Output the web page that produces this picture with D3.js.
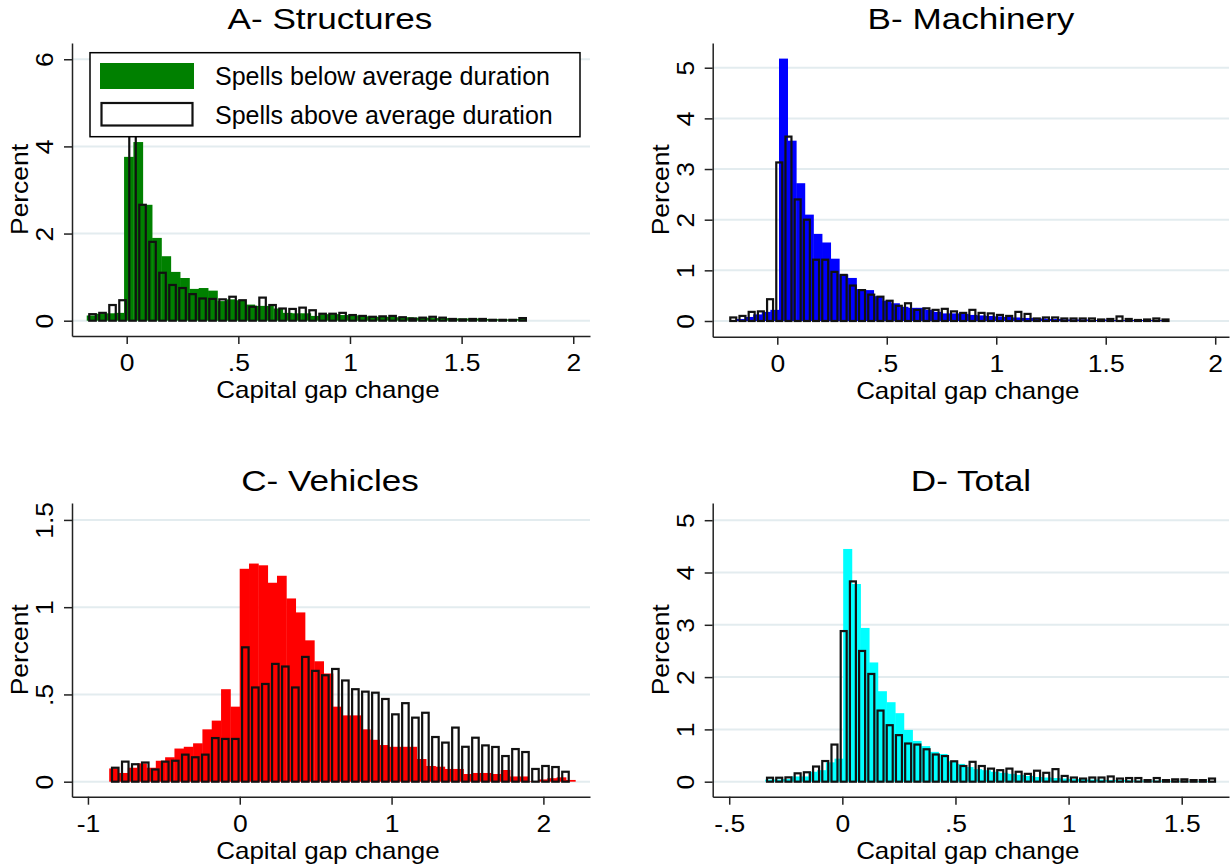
<!DOCTYPE html>
<html>
<head>
<meta charset="utf-8">
<script src="https://cdn.jsdelivr.net/npm/d3@7"></script>
<style>
  body { margin: 0; background: #fff; }
  svg text { font-family: "Liberation Sans", Arial, Helvetica, sans-serif; fill: #000; }
</style>
</head>
<body>
<svg id="chart" width="1231" height="867"></svg>
<script>
// ---- data: percent per bin, [first bin edge, bin width] ----
const structuresBelow = [0.12, 0.16, 0.17, 0.18, 3.76, 4.10, 2.66, 1.90, 1.48, 1.12,
  0.98, 0.73, 0.75, 0.69, 0.45, 0.49, 0.47, 0.37, 0.34, 0.34,
  0.28, 0.18, 0.17, 0.17, 0.11, 0.15, 0.15, 0.13, 0.12, 0.12,
  0.10, 0.09, 0.09, 0.08, 0.08, 0.07, 0.07, 0.06, 0.06, 0.05,
  0.05, 0.05, 0.04, 0.04, 0.03, 0.03, 0.04];
const structuresBelowBins = [-0.179, 0.0418];
const structuresAbove = [0.15, 0.18, 0.36, 0.47, 4.5, 2.66, 1.81, 1.10, 0.82, 0.75,
  0.61, 0.51, 0.50, 0.49, 0.55, 0.47, 0.32, 0.53, 0.36, 0.28,
  0.27, 0.30, 0.24, 0.16, 0.16, 0.18, 0.13, 0.11, 0.09, 0.10,
  0.11, 0.08, 0.05, 0.07, 0.09, 0.07, 0.04, 0.03, 0.04, 0.04,
  0.02, 0.02, 0.02, 0.06];
const structuresAboveBins = [-0.1755, 0.0448];

const machineryBelow = [0.04, 0.08, 0.13, 0.18, 0.22, 5.18, 3.56, 2.72, 2.10, 1.72,
  1.55, 1.23, 0.92, 0.85, 0.63, 0.61, 0.49, 0.40, 0.35, 0.28,
  0.26, 0.26, 0.22, 0.18, 0.15, 0.15, 0.14, 0.12, 0.11, 0.10,
  0.09, 0.08, 0.07, 0.06, 0.06, 0.05, 0.04, 0.04, 0.03, 0.03,
  0.03, 0.02, 0.03, 0.02, 0.02, 0.02, 0.02, 0.02, 0.02, 0.02];
const machineryBelowBins = [-0.1887, 0.0393];
const machineryAbove = [0.07, 0.10, 0.18, 0.19, 0.43, 3.13, 3.64, 2.40, 2.00, 1.21,
  1.21, 0.97, 0.91, 0.70, 0.61, 0.52, 0.48, 0.40, 0.30, 0.35,
  0.22, 0.25, 0.22, 0.24, 0.19, 0.16, 0.22, 0.16, 0.15, 0.12,
  0.10, 0.18, 0.14, 0.05, 0.07, 0.07, 0.05, 0.05, 0.05, 0.05,
  0.03, 0.04, 0.09, 0.04, 0.02, 0.03, 0.05, 0.03];
const machineryAboveBins = [-0.222, 0.042];

const vehiclesBelow = [0.076, 0.05, 0.08, 0.105, 0.08, 0.12, 0.14, 0.19, 0.20, 0.22,
  0.30, 0.35, 0.53, 0.43, 1.22, 1.25, 1.24, 1.14, 1.18, 1.05,
  0.97, 0.81, 0.69, 0.62, 0.43, 0.38, 0.38, 0.30, 0.24, 0.21,
  0.20, 0.20, 0.20, 0.13, 0.09, 0.086, 0.073, 0.073, 0.044, 0.05,
  0.05, 0.044, 0.067, 0.03, 0.03, 0.003, 0.013, 0.02, 0.025, 0.01];
const vehiclesBelowBins = [-0.860, 0.0614];
const vehiclesAbove = [0.08, 0.115, 0.10, 0.11, 0.07, 0.115, 0.12, 0.155, 0.14, 0.155,
  0.25, 0.245, 0.245, 0.77, 0.54, 0.56, 0.675, 0.66, 0.54, 0.715,
  0.635, 0.61, 0.646, 0.58, 0.53, 0.516, 0.51, 0.474, 0.386, 0.45,
  0.367, 0.395, 0.256, 0.224, 0.31, 0.20, 0.252, 0.208, 0.199, 0.147,
  0.187, 0.17, 0.073, 0.09, 0.084, 0.057];
const vehiclesAboveBins = [-0.853, 0.0659];

const totalBelow = [0.04, 0.04, 0.05, 0.10, 0.10, 0.19, 0.22, 0.37, 0.44, 4.45,
  3.78, 2.94, 2.28, 1.73, 1.52, 1.31, 0.99, 0.78, 0.68, 0.57,
  0.53, 0.39, 0.34, 0.28, 0.24, 0.22, 0.19, 0.17, 0.15, 0.13,
  0.11, 0.09, 0.08, 0.07, 0.06, 0.05, 0.05, 0.04, 0.04, 0.03,
  0.03, 0.03, 0.02, 0.02, 0.02, 0.02, 0.015, 0.015, 0.01, 0.01,
  0.01, 0.01];
const totalBelowBins = [-0.341, 0.0383];
const totalAbove = [0.076, 0.076, 0.083, 0.16, 0.18, 0.29, 0.395, 0.71, 2.88, 3.83,
  2.50, 2.06, 1.36, 1.08, 0.89, 0.73, 0.71, 0.62, 0.52, 0.49,
  0.39, 0.30, 0.38, 0.30, 0.25, 0.22, 0.25, 0.19, 0.15, 0.21,
  0.17, 0.24, 0.11, 0.08, 0.06, 0.08, 0.08, 0.10, 0.06, 0.07,
  0.07, 0.03, 0.07, 0.03, 0.045, 0.045, 0.03, 0.03, 0.06];
const totalAboveBins = [-0.340, 0.0407];

// ---- tick values and labels ----
const yTicksA = [0, 2, 4, 6];
const yTicksB = [0, 1, 2, 3, 4, 5];
const yTicksC = [0, 0.5, 1, 1.5];
const yTicksD = [0, 1, 2, 3, 4, 5];
const xTicksAB = [0, 0.5, 1, 1.5, 2];
const xTicksC = [-1, 0, 1, 2];
const xTicksD = [-0.5, 0, 0.5, 1, 1.5];
// Stata style: plain hyphen, no leading zero
const fmt = d => String(d).replace(/^0\./, '.').replace(/^-0\./, '-.');

const legendLabels = ['Spells below average duration', 'Spells above average duration'];

const panels = [
  { title: 'A- Structures', color: '#008000', below: structuresBelow, belowBins: structuresBelowBins,
    above: structuresAbove, aboveBins: structuresAboveBins, yTicks: yTicksA, xTicks: xTicksAB,
    box: { left: 72, right: 590, top: 43, bottom: 336 }, xDomain: [-0.245, 2.075], yDomain: [-0.351, 6.373],
    titleY: 29, legend: true },
  { title: 'B- Machinery', color: '#0000ff', below: machineryBelow, belowBins: machineryBelowBins,
    above: machineryAbove, aboveBins: machineryAboveBins, yTicks: yTicksB, xTicks: xTicksAB,
    box: { left: 712.7, right: 1229, top: 43, bottom: 336.7 }, xDomain: [-0.295, 2.063], yDomain: [-0.310, 5.488],
    titleY: 29 },
  { title: 'C- Vehicles', color: '#ff0000', below: vehiclesBelow, belowBins: vehiclesBelowBins,
    above: vehiclesAbove, aboveBins: vehiclesAboveBins, yTicks: yTicksC, xTicks: xTicksC,
    box: { left: 72, right: 590, top: 503, bottom: 796.7 }, xDomain: [-1.105, 2.307], yDomain: [-0.086, 1.597],
    titleY: 491 },
  { title: 'D- Total', color: '#00ffff', below: totalBelow, belowBins: totalBelowBins,
    above: totalAbove, aboveBins: totalAboveBins, yTicks: yTicksD, xTicks: xTicksD,
    box: { left: 712.7, right: 1229, top: 503, bottom: 796.7 }, xDomain: [-0.573, 1.709], yDomain: [-0.287, 5.329],
    titleY: 491 }
];

const svg = d3.select('#chart');

// the original font runs a bit wider than Liberation Sans
function stretch(sel, k) {
  sel.each(function() {
    const len = this.getComputedTextLength();
    d3.select(this).attr('textLength', len * k).attr('lengthAdjust', 'spacingAndGlyphs');
  });
}

function drawPanel(p) {
  const b = p.box;
  const x = d3.scaleLinear().domain(p.xDomain).range([b.left, b.right]);
  const y = d3.scaleLinear().domain(p.yDomain).range([b.bottom, b.top]);
  const g = svg.append('g');

  // gridlines
  g.selectAll('line.grid').data(p.yTicks).join('line')
      .attr('class', 'grid')
      .attr('x1', b.left).attr('x2', b.right)
      .attr('y1', d => y(d)).attr('y2', d => y(d))
      .attr('stroke', '#e3ecef').attr('stroke-width', 2);

  // filled histogram (spells below average)
  const bw = x(p.belowBins[1]) - x(0);
  g.selectAll('rect.below').data(p.below).join('rect')
      .attr('class', 'below')
      .attr('x', (d, i) => x(p.belowBins[0] + i * p.belowBins[1]))
      .attr('width', bw + 0.4)
      .attr('y', d => y(d))
      .attr('height', d => y(0) - y(d))
      .attr('fill', p.color);

  // outlined histogram (spells above average)
  const ow = (x(p.aboveBins[1]) - x(0)) * 0.65;
  g.selectAll('rect.above').data(p.above).join('rect')
      .attr('class', 'above')
      .attr('x', (d, i) => x(p.aboveBins[0] + (i + 0.5) * p.aboveBins[1]) - ow / 2)
      .attr('width', ow)
      .attr('y', d => y(d))
      .attr('height', d => y(0) - y(d))
      .attr('fill', 'none')
      .attr('stroke', '#111')
      .attr('stroke-width', 2.2);

  // y axis
  const yAxis = g.append('g')
      .attr('transform', `translate(${b.left},0)`)
      .call(d3.axisLeft(y).tickValues(p.yTicks).tickFormat(fmt).tickSize(8).tickSizeOuter(0));
  yAxis.selectAll('text')
      .attr('x', 0).attr('y', -19).attr('dy', 0)
      .attr('text-anchor', 'middle')
      .attr('transform', 'rotate(-90)');

  // x axis
  const xAxis = g.append('g')
      .attr('transform', `translate(0,${b.bottom})`)
      .call(d3.axisBottom(x).tickValues(p.xTicks).tickFormat(fmt).tickSize(8).tickSizeOuter(0));
  xAxis.selectAll('text').attr('y', 35).attr('dy', 0);

  [yAxis, xAxis].forEach(a => {
    a.selectAll('path, line').attr('stroke', '#222').attr('stroke-width', 1.5);
    a.selectAll('text').style('font-size', '23px').attr('fill', '#000');
    stretch(a.selectAll('text'), 1.15);
  });

  // axis titles
  g.append('text')
      .attr('x', (b.left + b.right) / 2 - 3)
      .attr('y', b.bottom + 62)
      .attr('text-anchor', 'middle')
      .style('font-size', '24px')
      .text('Capital gap change')
      .call(stretch, 1.08);

  g.append('text')
      .attr('transform', `translate(${b.left - 44},${(b.top + b.bottom) / 2}) rotate(-90)`)
      .attr('text-anchor', 'middle')
      .style('font-size', '24px')
      .text('Percent')
      .call(stretch, 1.1);

  // panel title
  g.append('text')
      .attr('x', b.left === 72 ? 330 : 971)
      .attr('y', p.titleY)
      .attr('text-anchor', 'middle')
      .style('font-size', '30px')
      .text(p.title)
      .call(stretch, 1.17);

  if (p.legend) {
    const lg = g.append('g');
    lg.append('rect')
        .attr('x', 90).attr('y', 52.7).attr('width', 490).attr('height', 84)
        .attr('fill', '#fff').attr('stroke', '#000').attr('stroke-width', 1.5);
    lg.append('rect')
        .attr('x', 100).attr('y', 63).attr('width', 94).attr('height', 26)
        .attr('fill', p.color);
    lg.append('rect')
        .attr('x', 101.5).attr('y', 103).attr('width', 91).attr('height', 22.5)
        .attr('fill', 'none').attr('stroke', '#111').attr('stroke-width', 2.2);
    lg.selectAll('text.leg').data(legendLabels).join('text')
        .attr('class', 'leg')
        .attr('x', 215)
        .attr('y', (d, i) => 85 + i * 39)
        .style('font-size', '25px')
        .text(d => d);
  }
}

panels.forEach(drawPanel);
</script>
</body>
</html>
